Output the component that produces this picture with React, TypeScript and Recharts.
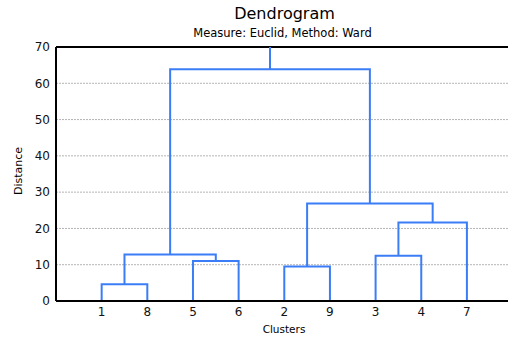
import { LineChart, Line, XAxis, YAxis, CartesianGrid, ReferenceLine } from "recharts";

// leaf order along the x axis
const leaves = ["1", "8", "5", "6", "2", "9", "3", "4", "7"];

// merges: [left node, right node, distance]; nodes 0-8 are leaves, 9+ are merges in order
const merges: [number, number, number][] = [
  [0, 1, 4.6],
  [2, 3, 11.0],
  [4, 5, 9.5],
  [6, 7, 12.5],
  [9, 10, 12.8],
  [12, 8, 21.6],
  [11, 14, 26.9],
  [13, 15, 63.9],
];

const yTicks = [0, 10, 20, 30, 40, 50, 60, 70];
const yMax = 70;

const BLUE = "#3b7df7";
const FONT = "'DejaVu Sans', Arial, sans-serif";

type Pt = { x: number; y: number };

function buildLinks() {
  const pos: number[] = leaves.map((_, i) => i + 1);
  const hgt: number[] = leaves.map(() => 0);
  const links: Pt[][] = [];
  merges.forEach(([a, b, h]) => {
    links.push([
      { x: pos[a], y: hgt[a] },
      { x: pos[a], y: h },
      { x: pos[b], y: h },
      { x: pos[b], y: hgt[b] },
    ]);
    pos.push((pos[a] + pos[b]) / 2);
    hgt.push(h);
  });
  const root = pos.length - 1;
  links.push([
    { x: pos[root], y: hgt[root] },
    { x: pos[root], y: yMax },
  ]);
  return links;
}

const links = buildLinks();

export default function App() {
  return (
    <div style={{ position: "absolute", left: 0, top: 0, width: 508, height: 337, background: "#fff" }}>
      <LineChart width={508} height={337} margin={{ top: 47, right: 0, bottom: 6, left: 0 }}>
        <CartesianGrid vertical={false} stroke="#b4b4b4" strokeDasharray="2 1" />
        <XAxis
          type="number"
          dataKey="x"
          domain={[0, 9.9]}
          ticks={leaves.map((_, i) => i + 1)}
          tickFormatter={(v: number) => leaves[v - 1]}
          height={30}
          tickLine={false}
          tickSize={0}
          tickMargin={6}
          stroke="#000"
          strokeWidth={2}
          tick={{ fill: "#111", fontSize: 12, fontFamily: FONT }}
          allowDataOverflow
        />
        <YAxis
          type="number"
          dataKey="y"
          domain={[0, yMax]}
          ticks={yTicks}
          width={56}
          tickLine={false}
          tickSize={4}
          tickMargin={2}
          stroke="#000"
          strokeWidth={2}
          tick={{ fill: "#111", fontSize: 12, fontFamily: FONT }}
          allowDataOverflow
        />
        <ReferenceLine y={yMax} stroke="#000" strokeWidth={2} />
        {links.map((d, i) => (
          <Line
            key={i}
            data={d}
            dataKey="y"
            type="linear"
            stroke={BLUE}
            strokeWidth={2}
            dot={false}
            activeDot={false}
            isAnimationActive={false}
          />
        ))}
      </LineChart>
      <svg
        width={508}
        height={337}
        style={{ position: "absolute", left: 0, top: 0, pointerEvents: "none" }}
        fontFamily={FONT}
      >
        <text x={284.5} y={19} textAnchor="middle" fontSize={16} fill="#000">
          Dendrogram
        </text>
        <text x={282.5} y={37.3} textAnchor="middle" fontSize={11.5} fill="#000">
          Measure: Euclid, Method: Ward
        </text>
        <text x={22} y={171} textAnchor="middle" fontSize={11} fill="#000" transform="rotate(-90 22 171)">
          Distance
        </text>
        <text x={284} y={333} textAnchor="middle" fontSize={10.5} fill="#000">
          Clusters
        </text>
      </svg>
    </div>
  );
}
